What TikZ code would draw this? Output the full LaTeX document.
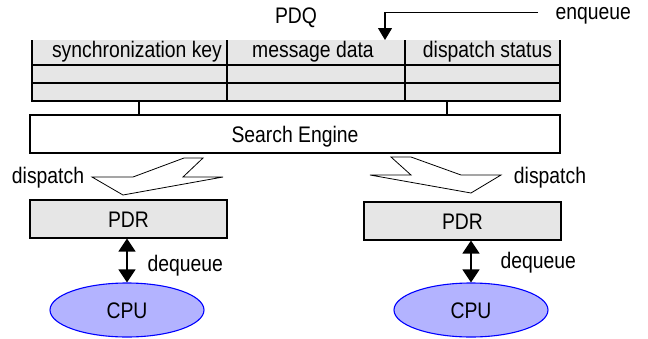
\documentclass[tikz,border=0pt]{standalone}
\usepackage{fontspec}
\setmainfont[FakeStretch=0.86]{Liberation Sans}
\usetikzlibrary{arrows.meta,shapes.geometric}
\definecolor{boxgray}{HTML}{E6E6E6}
\definecolor{cpufill}{HTML}{B3B3FF}
\definecolor{cpuline}{HTML}{0000FF}
\begin{document}
\begin{tikzpicture}[x=1pt,y=-1pt,
  font=\fontsize{22.5}{25}\selectfont,
  line width=1.1pt,
  lbl/.style={inner sep=0pt, anchor=base},
  llbl/.style={inner sep=0pt, anchor=base west},
  box/.style={draw, fill=boxgray, inner sep=0pt, text height=16pt, text depth=0pt},
  whitebox/.style={draw, fill=white, inner sep=0pt, text height=16pt, text depth=0pt},
  cpu/.style={ellipse, draw=cpuline, fill=cpufill, inner sep=0pt, minimum width=154pt, minimum height=54pt, text height=16pt, text depth=0pt},
  dbl/.style={line width=1.3pt, {Triangle[width=17pt,length=13pt]}-{Triangle[width=17pt,length=13pt]}},
  arr/.style={-{Triangle[width=14pt,length=12pt]}},
  bolt/.style={draw, fill=white, line width=0.8pt, line join=miter}
]
\useasboundingbox (0,0) rectangle (648,338);

% PDQ table
\fill[boxgray] (32,40) rectangle (560,101);
\draw (32,40) -- (32,101) -- (560,101) -- (560,40);
\draw (32,65) -- (560,65);
\draw (32,83) -- (560,83);
\draw (227,40) -- (227,101);
\draw (405,40) -- (405,101);

\node[lbl] (pdq) at (296,23) {PDQ};
\node[lbl] (key) at (137,57) {synchronization key};
\node[lbl] (msg) at (313,57) {message data};
\node[lbl] (stat) at (487.5,57) {dispatch status};

% enqueue
\node[llbl] (enq) at (555,19.5) {enqueue};
\coordinate (entry) at (385,40);
\draw[arr] (538,12.5) -| (entry);

% Search engine
\node[whitebox, minimum width=530pt, minimum height=38pt] (se) at (295,134) {Search Engine};
\coordinate (t1) at (139,101);
\coordinate (t2) at (447,101);
\draw (t1) -- (t1 |- se.north);
\draw (t2) -- (t2 |- se.north);

% dispatch bolts
\draw[bolt] (92,177) -- (133,177) -- (184,158) -- (203,158) -- (183,177) -- (223,177) -- (123,195) -- cycle;
\draw[bolt] (391,157) -- (411,157) -- (461,175) -- (501,175) -- (471,193) -- (370,175) -- (411,175) -- cycle;
\node[lbl] (dispL) at (48,183) {dispatch};
\node[lbl] (dispR) at (550,183.5) {dispatch};

% PDR boxes
\node[box, minimum width=197pt, minimum height=38pt] (pdrL) at (128.5,219) {PDR};
\node[box, minimum width=197pt, minimum height=38pt] (pdrR) at (462.5,221) {PDR};

% CPUs
\node[cpu] (cpuL) at (127,310) {CPU};
\node[cpu] (cpuR) at (471,310) {CPU};

\draw[dbl] (pdrL.south -| cpuL.north) -- (cpuL.north);
\draw[dbl] (pdrR.south -| cpuR.north) -- (cpuR.north);

\node[llbl] (deqL) at (147,271.5) {dequeue};
\node[llbl] (deqR) at (500,268) {dequeue};
\end{tikzpicture}
\end{document}
